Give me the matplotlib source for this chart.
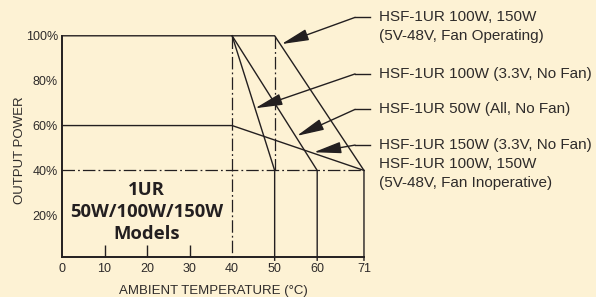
import numpy as np
import matplotlib
matplotlib.use('Agg')
import matplotlib.pyplot as plt

##DATA
# derating curves, temperature (C) vs output power (%)
fanOpT = [0, 50, 71, 71]
fanOpP = [100, 100, 40, 0]
w100NoFanT = [40, 50, 50]
w100NoFanP = [100, 40, 0]
w50NoFanT = [40, 60, 60]
w50NoFanP = [100, 40, 0]
w150NoFanT = [0, 40, 71]
w150NoFanP = [60, 60, 40]

# dash-dot guide lines
guideHT = [0, 71]
guideHP = [40, 40]
guide40T = [40, 40]
guide40P = [100, 0]
guide50T = [50, 50]
guide50P = [100, 40]

xTicks = [0, 10, 20, 30, 40, 50, 60, 71]
yTicks = [20, 40, 60, 80, 100]
yTickLabels = ['20%', '40%', '60%', '80%', '100%']

labels = ['HSF-1UR 100W, 150W\n(5V-48V, Fan Operating)',
          'HSF-1UR 100W (3.3V, No Fan)',
          'HSF-1UR 50W (All, No Fan)',
          'HSF-1UR 150W (3.3V, No Fan)\nHSF-1UR 100W, 150W\n(5V-48V, Fan Inoperative)']
labelY = [108.2, 83.0, 67.2, 51.3]
arrowTips = [(51.6, 96.3), (45.4, 67.7), (55.2, 55.4), (59.2, 48.1)]

##STYLE
bg = '#fdf2d4'
ink = '#231f20'
txt = '#2e2b2a'
plt.rcParams['font.family'] = ['Liberation Sans', 'DejaVu Sans']
plt.rcParams['lines.scale_dashes'] = False
dashdot = (0, (9, 2.2, 1.3, 2.2))

fig = plt.figure(figsize=(5.96, 2.97), dpi=100, facecolor=bg)
ax = fig.add_axes([0.104, 0.1337, 0.5067, 0.7458], facecolor=bg)

lw = 1.0
for t, p in [(fanOpT, fanOpP), (w100NoFanT, w100NoFanP),
             (w50NoFanT, w50NoFanP), (w150NoFanT, w150NoFanP)]:
    ax.plot(t, p, color=ink, lw=lw, clip_on=False, solid_joinstyle='miter')
for t, p in [(guideHT, guideHP), (guide40T, guide40P), (guide50T, guide50P)]:
    ax.plot(t, p, color=ink, lw=0.9, linestyle=dashdot, clip_on=False)

ax.set_xlim(0, 71)
ax.set_ylim(1.3, 100)
for s in ['top', 'right']:
    ax.spines[s].set_visible(False)
for s in ['left', 'bottom']:
    ax.spines[s].set_color(ink)
    ax.spines[s].set_linewidth(1.4)

ax.set_xticks(xTicks)
ax.set_xticklabels([str(v) for v in xTicks], fontsize=9, color=txt)
ax.set_yticks(yTicks)
ax.set_yticklabels(yTickLabels, fontsize=9, color=txt)
ax.tick_params(axis='x', direction='in', length=8.5, width=1.0, color=ink, pad=4)
ax.tick_params(axis='y', length=0, pad=3)
for tk, v in zip(ax.xaxis.get_major_ticks(), xTicks):
    if v not in (10, 20, 30):
        tk.tick1line.set_visible(False)

ax.set_xlabel('AMBIENT TEMPERATURE (°C)', fontsize=9.5, color=txt, labelpad=7)
ax.set_ylabel('OUTPUT POWER', fontsize=9.5, color=txt, labelpad=4)
ax.yaxis.set_label_coords(-0.118, 0.485)

ax.text(19.9, 21.6, '1UR\n50W/100W/150W\nModels', family='Open Sans', fontweight='bold',
        fontsize=13.3, color=ink, ha='center', va='center', linespacing=1.28)

##LABELS + ARROWS
for lab, ly, tip in zip(labels, labelY, arrowTips):
    ax.plot([68.9, 72.4], [ly, ly], color=ink, lw=1.0, clip_on=False)
    ax.annotate('', xy=tip, xytext=(68.9, ly), annotation_clip=False,
                arrowprops=dict(arrowstyle='-|>,head_length=1.05,head_width=0.22',
                                mutation_scale=16, color=ink, lw=1.0,
                                shrinkA=0, shrinkB=0))
    ax.annotate(lab, xy=(74.5, ly), xytext=(0, 5.2), textcoords='offset points',
                fontsize=11, color=txt, ha='left', va='top',
                linespacing=1.45, annotation_clip=False)

fig.savefig('out.png', dpi=100, facecolor=bg)
